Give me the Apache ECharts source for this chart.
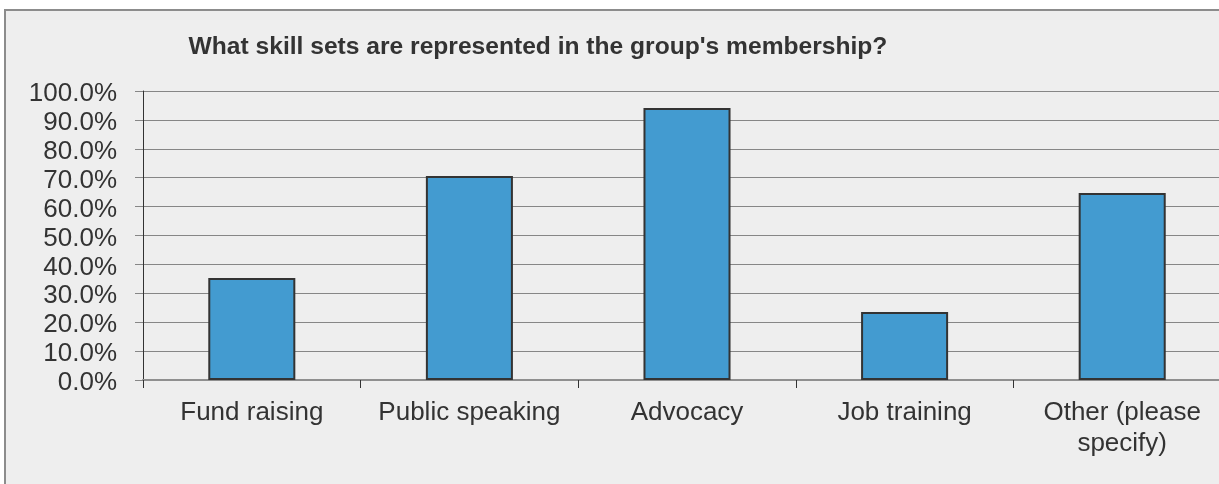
<!DOCTYPE html>
<html>
<head>
<meta charset="utf-8">
<script src="https://cdn.jsdelivr.net/npm/echarts@6/dist/echarts.min.js"></script>
<style>
  html, body { margin: 0; padding: 0; background: #ffffff; overflow: hidden; width: 1219px; height: 484px; }
  #frame {
    position: absolute; left: 4px; top: 9px;
    width: 1260px; height: 500px;
    background: #eeeeee;
    border-left: 2px solid #8c8c8c;
    border-top: 2px solid #8c8c8c;
  }
  #chart { position: absolute; left: 0; top: 0; width: 1250px; height: 473px; }
</style>
</head>
<body>
<div id="frame"><div id="chart"></div></div>
<script>
// Survey question and answer options
const chartTitle = "What skill sets are represented in the group's membership?";
const categories = ['Fund raising', 'Public speaking', 'Advocacy', 'Job training', 'Other (please\nspecify)'];
// Share of respondents selecting each skill set (%)
const responsePercent = [35.3, 70.6, 94.1, 23.5, 64.7];

const FONT = '"Liberation Sans", Arial, sans-serif';

const chart = echarts.init(document.getElementById('chart'), null, { renderer: 'canvas' });
chart.setOption({
  animation: false,
  backgroundColor: 'transparent',
  title: {
    text: chartTitle,
    left: 527,
    top: 19,
    textAlign: 'center',
    textStyle: { fontFamily: FONT, fontSize: 24.6, fontWeight: 'bold', color: '#333333' }
  },
  grid: { left: 137, top: 80, width: 1088, height: 289, containLabel: false },
  xAxis: {
    type: 'category',
    data: categories,
    boundaryGap: true,
    axisLine: { show: true, lineStyle: { color: '#8f8f8f', width: 2 } },
    axisTick: { show: true, alignWithLabel: false, length: 8, lineStyle: { color: '#333333', width: 1 } },
    axisLabel: {
      interval: 0, margin: 17,
      fontFamily: FONT, fontSize: 26, color: '#333333', lineHeight: 31, align: 'center'
    },
    splitLine: { show: false }
  },
  yAxis: {
    type: 'value',
    min: 0, max: 100, interval: 10,
    axisLine: { show: true, lineStyle: { color: '#333333', width: 1 } },
    axisTick: { show: true, length: 8, lineStyle: { color: '#868686' } },
    axisLabel: {
      margin: 26, fontFamily: FONT, fontSize: 26, color: '#333333',
      verticalAlign: 'top', lineHeight: 26, padding: [-10, 0, 0, 0],
      formatter: v => v.toFixed(1) + '%'
    },
    splitLine: { show: true, lineStyle: { color: '#868686', width: 1 } }
  },
  series: [{
    type: 'bar',
    data: responsePercent,
    barWidth: '40%',
    itemStyle: { color: '#439bd0', borderColor: '#333333', borderWidth: 2 }
  }]
});
</script>
</body>
</html>
